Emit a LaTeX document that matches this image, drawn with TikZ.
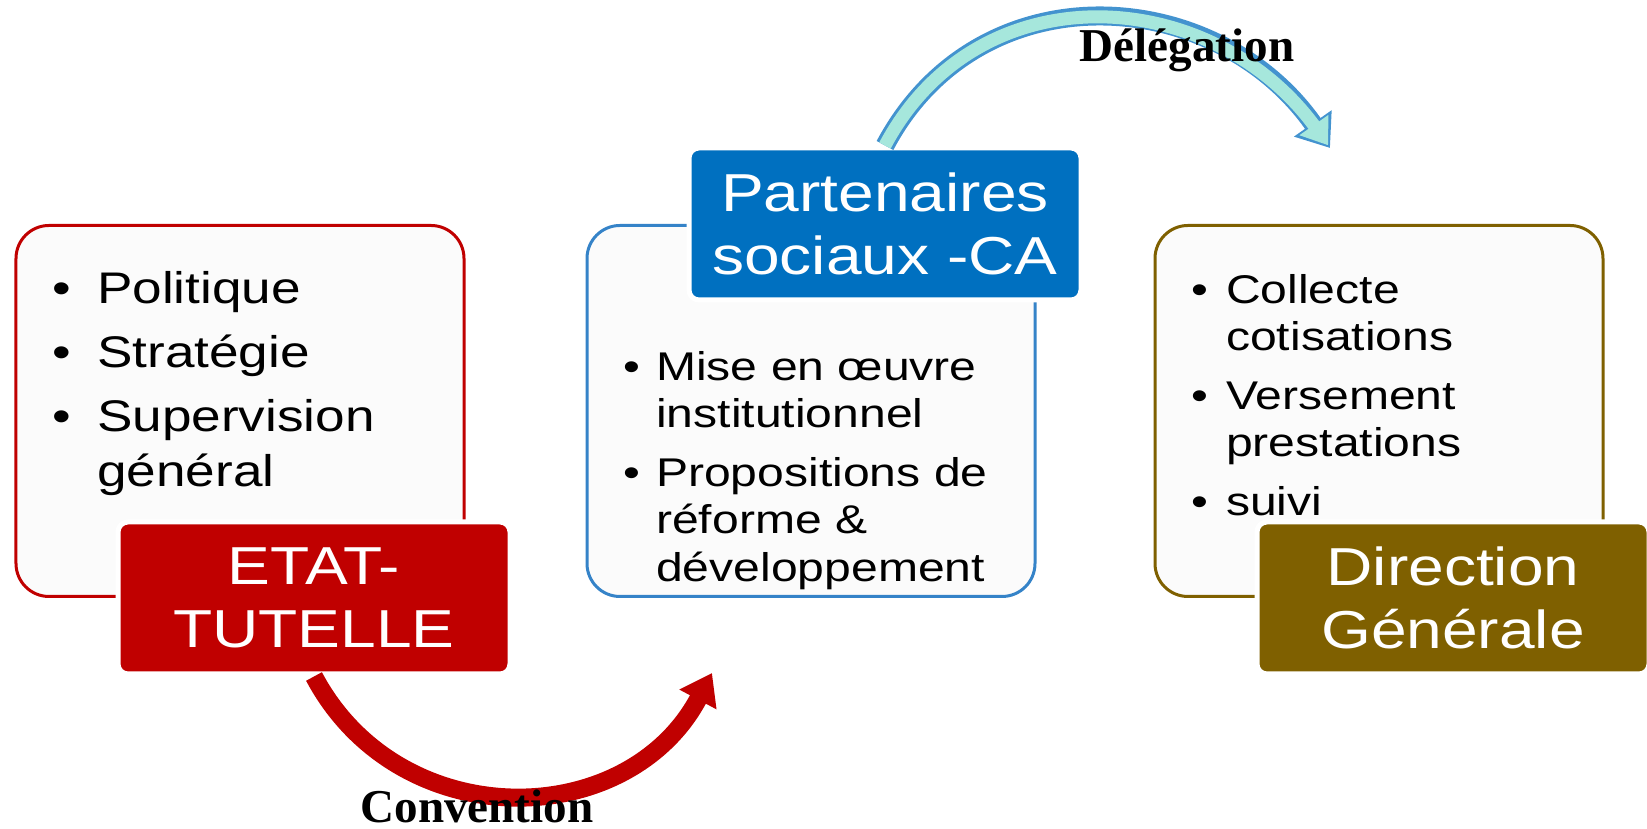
\documentclass[tikz,border=0pt]{standalone}
\usepackage{fontspec}
\setmainfont[FakeStretch=1.2]{Liberation Sans}
\newfontfamily\etiqfont{Liberation Serif}
\usepackage{tikz}
\usetikzlibrary{positioning, arrows.meta}

\definecolor{rougeT}{HTML}{C00000}
\definecolor{bleuT}{HTML}{0070C0}
\definecolor{bleuC}{HTML}{3583C8}
\definecolor{oliveT}{HTML}{7F6000}
\definecolor{fondC}{HTML}{FBFBFB}
\definecolor{cyanD}{HTML}{A6E7DC}
\definecolor{bleuD}{HTML}{4393CF}

\newlength{\retrait}
\newcommand{\puce}[1]{\noindent\hangindent=\retrait\hangafter=1\makebox[\retrait][l]{\textbullet}#1\par}

\tikzstyle{cadre} = [rectangle, draw, line width=0.03cm, fill=fondC, rounded corners=0.33cm,
minimum width=4.48cm, minimum height=3.71cm]
\tikzstyle{titre} = [rectangle, draw=white, line width=0.05cm, text=white, rounded corners=0.1cm,
minimum width=3.92cm, minimum height=1.52cm, align=center, font=\fontsize{15.2pt}{17.9pt}\selectfont]
\tikzstyle{liste} = [anchor=north west, inner sep=0pt, text width=4cm, align=left]
\tikzstyle{etiquette} = [anchor=base, inner sep=0pt, font=\etiqfont\bfseries\fontsize{13.4pt}{16pt}\selectfont]
\tikzstyle{convfleche} = [draw=rougeT, line width=0.18cm, -{Triangle[width=0.40cm, length=0.30cm]}]
\tikzstyle{delegbord} = [draw=bleuD, line width=0.19cm, -{Triangle[width=0.44cm, length=0.30cm]}]
\tikzstyle{delegtete} = [draw=cyanD, line width=0.02cm, shorten >=0.035cm, -{Triangle[width=0.35cm, length=0.245cm]}]
\tikzstyle{delegfond} = [draw=cyanD, line width=0.13cm, shorten >=0.2cm]

\begin{document}
\begin{tikzpicture}[node distance = 1.2cm]
	\useasboundingbox (0,0) rectangle (16.47,8.29);
	
	% Place boxes
	\node [cadre, draw=rougeT]						(etatbox)	at (2.40,4.18)	{};
	\node [cadre, draw=bleuC, right=1.2cm of etatbox]	(partbox)				{};
	\node [cadre, draw=oliveT, right=1.17cm of partbox]	(dirbox)				{};
	
	% Place titles
	\node [titre, fill=rougeT]	(etat)	at ([xshift=0.74cm]etatbox.south)	{ETAT-\\TUTELLE};
	\node [titre, fill=bleuT]	(part)	at ([xshift=0.74cm]partbox.north)	{Partenaires\\sociaux -CA};
	\node [titre, fill=oliveT]	(dir)	at ([xshift=0.74cm]dirbox.south)	{Direction\\Générale};
	
	% Lists
	\node [liste, font=\fontsize{12.6pt}{15.6pt}\selectfont] (etatliste) at ([shift={(0.37,-0.47)}]etatbox.north west)
		{\setlength{\retrait}{0.45cm}\setlength{\parskip}{2.6pt}%
		\puce{Politique}\puce{Stratégie}\puce{Supervision\newline général}};
	\node [liste, font=\fontsize{11.4pt}{13.4pt}\selectfont] (partliste) at ([shift={(0.37,-1.27)}]partbox.north west)
		{\setlength{\retrait}{0.33cm}\setlength{\parskip}{3.4pt}%
		\puce{Mise en œuvre\newline institutionnel}\puce{Propositions de\newline réforme \&\newline développement}};
	\node [liste, font=\fontsize{11.4pt}{13.4pt}\selectfont] (dirliste) at ([shift={(0.37,-0.50)}]dirbox.north west)
		{\setlength{\retrait}{0.35cm}\setlength{\parskip}{3.4pt}%
		\puce{Collecte\newline cotisations}\puce{Versement\newline prestations}\puce{suivi}};
	
	%Draw arrows
	\coordinate (convtip) at (7.12,1.56);
	\coordinate (delegtip) at (13.30,6.81);
	\draw [convfleche] (etat.south) to[out=-62, in=-118, looseness=1.16] (convtip);
	\draw [delegbord] (part.north) to[out=62, in=125, looseness=1.15] (delegtip);
	\draw [delegtete] (part.north) to[out=62, in=125, looseness=1.15] (delegtip);
	\draw [delegfond] (part.north) to[out=62, in=125, looseness=1.15] (delegtip);
	
	% Labels
	\node [etiquette] (deleg)	at (11.87,7.67)	{Délégation};
	\node [etiquette] (conv)	at (4.77,0.06)	{Convention};
	
\end{tikzpicture}
\end{document}
